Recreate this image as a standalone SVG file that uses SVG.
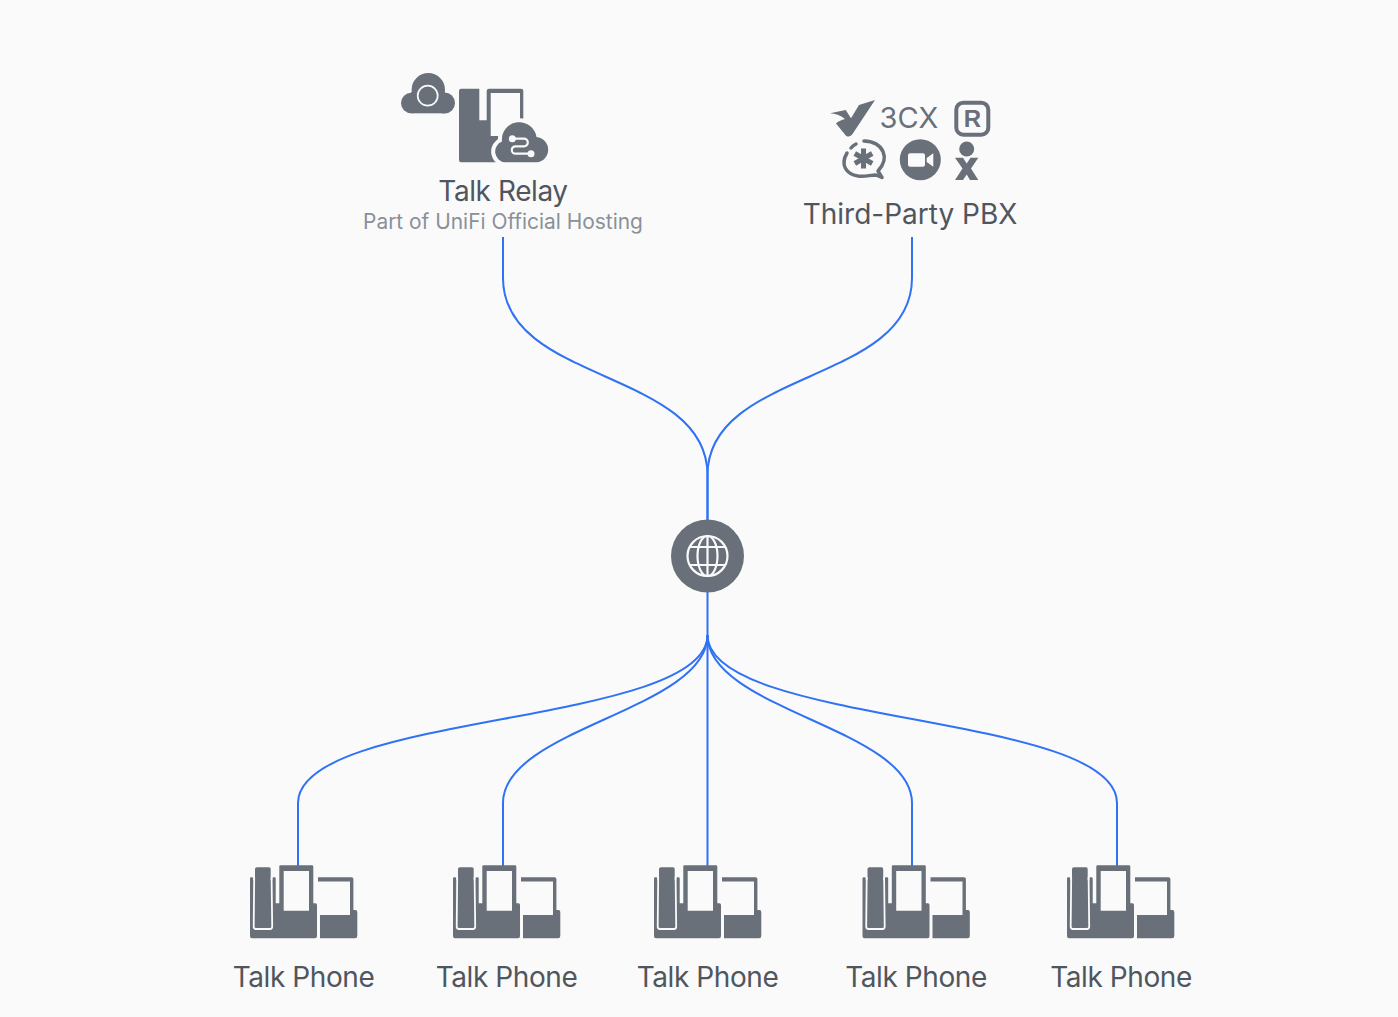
<svg xmlns="http://www.w3.org/2000/svg" width="1398" height="1017" viewBox="0 0 1398 1017">
<style>
.bg{fill:#fafafa}
.ic{fill:#697079}
.wl{fill:none;stroke:#fafafa;stroke-linecap:round;stroke-linejoin:round}
.ln{fill:none;stroke:#2f72f5;stroke-width:2}
text{font-family:"Inter","Noto Sans","Liberation Sans",sans-serif}
.t{font-size:28px;fill:#50565e;text-anchor:middle}
.n{letter-spacing:-0.42px}
.s{font-size:20.9px;fill:#8a9099;text-anchor:middle}
</style>
<defs>
<g id="phone">
<path class="ic" d="M1.300,12.300H2Q3.300,12.300 3.300,13.500V15H22.300V13.500Q22.300,12.300 23.500,12.300H24.500Q25.700,12.300 25.700,13.500V38.300H29.300V1.500Q29.300,0.300 30.500,0.300H62Q63.300,0.300 63.300,1.500V38.300H65.500Q67,38.300 67,40V71Q67,73.300 65,73.300H2Q0,73.300 0,71V13.500Q0,12.300 1.300,12.300Z"/>
<path class="bg" d="M33.700,6H59V45.700H33.700Z"/>
<path class="ic" d="M7,2.300H19Q20.700,2.300 20.700,4V16H5V4Q5,2.300 7,2.300Z"/>
<path fill="none" stroke="#fafafa" stroke-width="1.800" stroke-linejoin="round" d="M4.200,12L3.700,61.500Q3.700,64 6,64H20Q22.200,64 22.200,61.500L21.600,12"/>
<path class="ic" d="M68,12.300H101.500Q103.400,12.300 103.400,14V45H105.500Q107.300,45 107.300,47V71Q107.300,73.300 105,73.300H70V50H100V16.500H68Z"/>
</g>
</defs>
<rect class="bg" width="1398" height="1017"/>
<g id="connectors">
<path class="ln" d="M503,237V278C503,384 707.500,369 707.500,475V520"/>
<path class="ln" d="M912,237V278C912,384 707.500,369 707.500,475V520"/>
<path class="ln" d="M707.500,592V866"/>
<path class="ln" d="M707.500,635C707.500,726 298,712 298,803V866"/>
<path class="ln" d="M707.500,635C707.500,710 503,728 503,803V866"/>
<path class="ln" d="M707.500,635C707.500,710 912,728 912,803V866"/>
<path class="ln" d="M707.500,635C707.500,726 1117,712 1117,803V866"/>
</g>
<g id="talk-relay">
<circle class="ic" cx="428.300" cy="89.700" r="16.700"/>
<circle class="ic" cx="411.300" cy="103" r="10.300"/>
<circle class="ic" cx="444.500" cy="103" r="10.500"/>
<rect class="ic" x="411" y="92" width="34" height="21.300"/>
<circle cx="427.700" cy="95.700" r="10" fill="none" stroke="#fafafa" stroke-width="1.700"/>
<path class="ic" d="M461,88.700H479.300V120.300H486.700V91Q486.700,88.700 489,88.700H521Q523.300,88.700 523.300,91V128H520V93H490.700V136H500V162.300H461Q459,162.300 459,160V91Q459,88.700 461,88.700Z"/>
<path class="ic" d="M505,162.300A10.800,10.800 0 0 1 502,141.500A17.400,17.400 0 0 1 536.500,137A12.700,12.700 0 0 1 536.700,162.300Z" stroke="#fafafa" stroke-width="8" paint-order="stroke"/>
<path class="wl" stroke-width="2.200" d="M512.300,138.700H524A3.800,3.800 0 0 1 524,146.300H515.500A3.700,3.700 0 0 0 515.500,153.700H531"/>
<circle cx="512.300" cy="138.700" r="3.500" fill="#fafafa"/>
<circle cx="531" cy="153.700" r="3.500" fill="#fafafa"/>
<text class="t n" x="503" y="201">Talk Relay</text>
<text class="s" x="503" y="229">Part of UniFi Official Hosting</text>
</g>
<g id="third-party-pbx">
<path class="ic" d="M830,113.300L845.700,110L851,118.300L859,105L875,100L853.500,132.500Q850,138.500 846,135.700L836,123.500Q838,121 845,119Q838,113.500 830,113.300Z"/>
<text x="879.500" y="127.500" font-size="29" fill="#697079">3CX</text>
<rect x="956.300" y="102.700" width="32" height="32" rx="7" fill="none" stroke="#697079" stroke-width="4"/>
<text x="972.300" y="127" font-size="24" fill="#697079" text-anchor="middle" style="font-family:'Liberation Sans',sans-serif;font-weight:700">R</text>
<path fill="none" stroke="#697079" stroke-width="3.500" stroke-linecap="round" stroke-linejoin="round" d="M847,153C840,165 846,174 858,176C865,177 870,175 876,175L882,177.500L878,171C890,158 884,142 864,141"/>
<path fill="none" stroke="#697079" stroke-width="3.500" stroke-linecap="round" d="M851,148Q853,145.500 856,144"/>
<path stroke="#697079" stroke-width="5" d="M863.500,148.500V168.500M854.800,153.500L872.200,163.500M872.200,153.500L854.800,163.500"/>
<circle class="ic" cx="920.300" cy="159.700" r="20.500"/>
<path fill="#fafafa" d="M910,153.300H923Q925,153.300 925,155.300V164.700Q925,166.700 923,166.700H910Q908,166.700 908,164.700V155.300Q908,153.300 910,153.300ZM926.700,158L933.300,153.300V166.700L926.700,162Z"/>
<circle class="ic" cx="966.700" cy="149" r="7.500"/>
<path class="ic" d="M955,157.700H963L966.700,163.500L970.500,157.700H978.300L971,168.500L978.300,180H970L966.700,174.500L963,180H955L962.500,168.500Z"/>
<text class="t" x="910" y="224">Third-Party PBX</text>
</g>
<g id="globe">
<circle class="ic" cx="707.500" cy="556" r="36.500"/>
<g fill="none" stroke="#fafafa" stroke-width="2.200">
<circle cx="707.500" cy="556" r="20"/>
<ellipse cx="707.500" cy="556" rx="10" ry="20"/>
<path d="M707.500,536V576M689.600,547H725.400M689.600,565H725.400"/>
</g>
</g>
<g id="phone-1"><use href="#phone" x="250" y="865"/><text class="t n" x="303.500" y="987">Talk Phone</text></g>
<g id="phone-2"><use href="#phone" x="453" y="865"/><text class="t n" x="506.500" y="987">Talk Phone</text></g>
<g id="phone-3"><use href="#phone" x="654" y="865"/><text class="t n" x="707.500" y="987">Talk Phone</text></g>
<g id="phone-4"><use href="#phone" x="862.500" y="865"/><text class="t n" x="916" y="987">Talk Phone</text></g>
<g id="phone-5"><use href="#phone" x="1067" y="865"/><text class="t n" x="1121" y="987">Talk Phone</text></g>
</svg>
